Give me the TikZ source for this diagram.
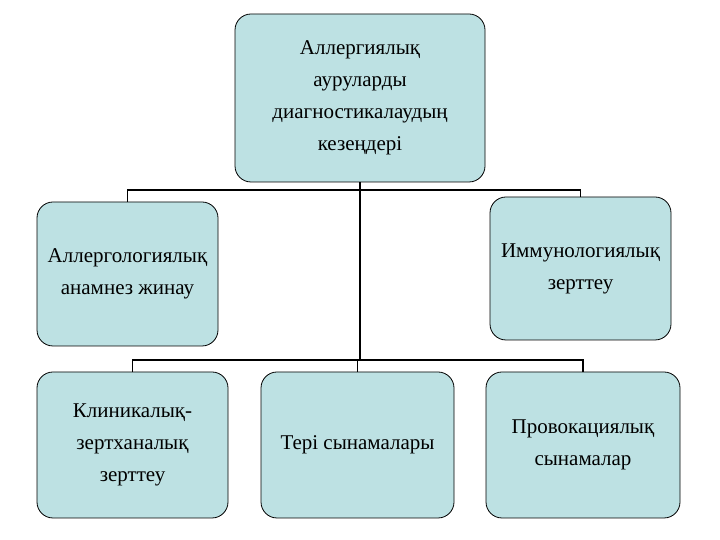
\documentclass[tikz,border=0pt]{standalone}
\usepackage{fontspec}
\setmainfont{Liberation Serif}
\begin{document}
\begin{tikzpicture}[x=1pt,y=1pt,
  box/.style={draw=black,fill=boxc,rounded corners=16pt,line width=0.8pt,align=center,font=\fontsize{21}{32}\selectfont,inner sep=0pt},
  conn/.style={draw=black,line width=1.6pt}]
\definecolor{boxc}{HTML}{BDE1E3}
\useasboundingbox (0,0) rectangle (720,540);
\node[box,minimum width=250pt,minimum height=168pt] (top) at (360,442) {Аллергиялық\\ ауруларды\\ диагностикалаудың\\ кезеңдері};
\node[box,minimum width=181pt,minimum height=144pt] (l) at (127.5,266) {Аллергологиялық\\ анамнез жинау};
\node[box,minimum width=181pt,minimum height=143pt] (r) at (580.5,271.5) {Иммунологиялық\\ зерттеу};
\node[box,minimum width=191pt,minimum height=146pt] (b1) at (132.5,95) {Клиникалық-\\ зертханалық\\ зерттеу};
\node[box,minimum width=193pt,minimum height=146pt] (b2) at (357.5,95) {Тері сынамалары};
\node[box,minimum width=194pt,minimum height=146pt] (b3) at (583,95) {Провокациялық\\ сынамалар};
\coordinate (h1) at (360,350);
\coordinate (h2) at (360,180);
\draw[conn] (top.south) -- (h2);
\draw[conn] (l.north) |- (h1) -| (r.north);
\draw[conn] (b1.north) |- (h2) -| (b3.north);
\draw[conn] (b2.north) -- (b2.north |- h2);
\end{tikzpicture}
\end{document}
